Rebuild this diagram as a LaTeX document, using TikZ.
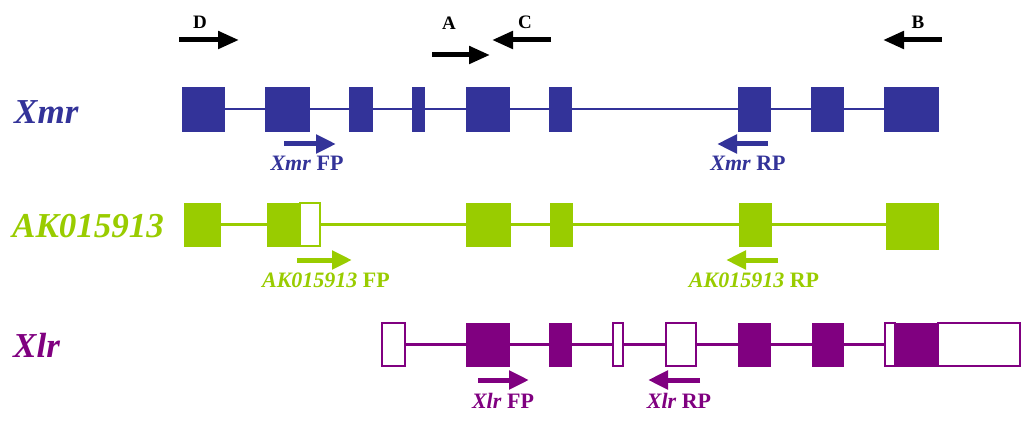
\documentclass[tikz,border=0pt]{standalone}
\usepackage{fontspec}
\setmainfont{Liberation Serif}
\usetikzlibrary{arrows.meta}
\definecolor{xmrblue}{HTML}{333399}
\definecolor{akgreen}{HTML}{99CC00}
\definecolor{xlrpurple}{HTML}{800080}

% exon box: style, name, left x, right x, centre y, height
\newcommand\exonbox[6]{\node[#1, minimum width={(#4-#3)*1pt}, minimum height={#6*1pt}] (#2) at ({(#3+#4)/2},#5) {};}

\begin{document}
\begin{tikzpicture}[x=1pt,y=-1pt,
  exon/.style={rectangle,draw=#1,fill=#1,line width=0.8pt,inner sep=0pt,outer sep=0pt},
  utr/.style={rectangle,draw=#1,fill=white,line width=1.8pt,inner sep=0pt,outer sep=0pt},
  intron/.style={draw=#1,line width=2.4pt},
  genename/.style={text=#1,font=\fontsize{35}{35}\selectfont\bfseries\itshape,anchor=base west,inner sep=0pt},
  primerlabel/.style={text=#1,font=\fontsize{22}{22}\selectfont\bfseries,anchor=base,inner sep=0pt},
  primer/.style={draw=#1,line width=5pt,-{Triangle[length=20pt,width=18pt]}},
  siteletter/.style={font=\fontsize{19}{19}\selectfont\bfseries,anchor=base,inner sep=0pt},
  site/.style={draw=black,line width=5pt,-{Triangle[length=21pt,width=17pt]}}
]
\useasboundingbox (0,0) rectangle (1024,422);

% ---------------- site arrows A-D ----------------
\coordinate (Dt) at (179,40);  \coordinate (Dh) at (239,40);
\coordinate (At) at (432,55);  \coordinate (Ah) at (490,55);
\coordinate (Ct) at (551,40);  \coordinate (Ch) at (492,40);
\coordinate (Bt) at (942,40);  \coordinate (Bh) at (883,40);
\draw[site] (Dt) -- (Dh);
\draw[site] (At) -- (Ah);
\draw[site] (Ct) -- (Ch);
\draw[site] (Bt) -- (Bh);
\node[siteletter] (Dl) at (200,29) {D};
\node[siteletter] (Al) at (449,30) {A};
\node[siteletter] (Cl) at (525,29) {C};
\node[siteletter] (Bl) at (918,29) {B};

% ---------------- Xmr ----------------
\node[genename=xmrblue] (xmrname) at (14,124) {Xmr};
\exonbox{exon=xmrblue}{m1}{182}{224}{109}{44}
\exonbox{exon=xmrblue}{m2}{265}{309}{109}{44}
\exonbox{exon=xmrblue}{m3}{349}{372}{109}{44}
\exonbox{exon=xmrblue}{m4}{412}{424}{109}{44}
\exonbox{exon=xmrblue}{m5}{466}{509}{109}{44}
\exonbox{exon=xmrblue}{m6}{549}{571}{109}{44}
\exonbox{exon=xmrblue}{m7}{738}{770}{109}{44}
\exonbox{exon=xmrblue}{m8}{811}{843}{109}{44}
\exonbox{exon=xmrblue}{m9}{884}{938}{109}{44}
\foreach \a/\b in {m1/m2,m2/m3,m3/m4,m4/m5,m5/m6,m6/m7,m7/m8,m8/m9}
  \draw[intron=xmrblue] (\a.east) -- (\b.west);
\coordinate (mFt) at (284,144); \coordinate (mFh) at (336,144);
\coordinate (mRt) at (768,144); \coordinate (mRh) at (717,144);
\draw[primer=xmrblue] (mFt) -- (mFh);
\draw[primer=xmrblue] (mRt) -- (mRh);
\node[primerlabel=xmrblue] (mFl) at (307,171) {\textit{Xmr} FP};
\node[primerlabel=xmrblue] (mRl) at (748,171) {\textit{Xmr} RP};

% ---------------- AK015913 ----------------
\node[genename=akgreen] (akname) at (12,237) {AK015913};
\exonbox{exon=akgreen}{a1}{184}{220}{224.5}{43}
\exonbox{exon=akgreen}{a2}{267}{300}{224.5}{43}
\exonbox{utr=akgreen}{a2u}{300}{320}{224.5}{43}
\exonbox{exon=akgreen}{a3}{466}{510}{224.5}{43}
\exonbox{exon=akgreen}{a4}{550}{572}{224.5}{43}
\exonbox{exon=akgreen}{a5}{739}{771}{224.5}{43}
\exonbox{exon=akgreen}{a6}{886}{938}{226}{46}
\foreach \a/\b in {a1/a2,a2u/a3,a3/a4,a4/a5,a5/a6}
  \draw[intron=akgreen] (\a.east) -- (\b.west |- a1.east);
\coordinate (aFt) at (297,260); \coordinate (aFh) at (352,260);
\coordinate (aRt) at (778,260); \coordinate (aRh) at (726,260);
\draw[primer=akgreen] (aFt) -- (aFh);
\draw[primer=akgreen] (aRt) -- (aRh);
\node[primerlabel=akgreen] (aFl) at (326,287) {\textit{AK015913} FP};
\node[primerlabel=akgreen] (aRl) at (754,287) {\textit{AK015913} RP};

% ---------------- Xlr ----------------
\node[genename=xlrpurple] (xlrname) at (13,357) {Xlr};
\exonbox{utr=xlrpurple}{l1}{382}{405}{344.5}{43}
\exonbox{exon=xlrpurple}{l2}{466}{509}{344.5}{43}
\exonbox{exon=xlrpurple}{l3}{549}{571}{344.5}{43}
\exonbox{utr=xlrpurple}{l4}{613}{623}{344.5}{43}
\exonbox{utr=xlrpurple}{l5}{666}{696}{344.5}{43}
\exonbox{exon=xlrpurple}{l6}{738}{770}{344.5}{43}
\exonbox{exon=xlrpurple}{l7}{812}{843}{344.5}{43}
\exonbox{utr=xlrpurple}{l8a}{885}{895}{344.5}{43}
\exonbox{exon=xlrpurple}{l8}{895}{938}{344.5}{43}
\exonbox{utr=xlrpurple}{l8b}{938}{1020}{344.5}{43}
\foreach \a/\b in {l1/l2,l2/l3,l3/l4,l4/l5,l5/l6,l6/l7,l7/l8a}
  \draw[intron=xlrpurple] (\a.east) -- (\b.west);
\coordinate (lFt) at (478,380); \coordinate (lFh) at (529,380);
\coordinate (lRt) at (700,380); \coordinate (lRh) at (648,380);
\draw[primer=xlrpurple] (lFt) -- (lFh);
\draw[primer=xlrpurple] (lRt) -- (lRh);
\node[primerlabel=xlrpurple] (lFl) at (503,408) {\textit{Xlr} FP};
\node[primerlabel=xlrpurple] (lRl) at (679,408) {\textit{Xlr} RP};
\end{tikzpicture}
\end{document}
